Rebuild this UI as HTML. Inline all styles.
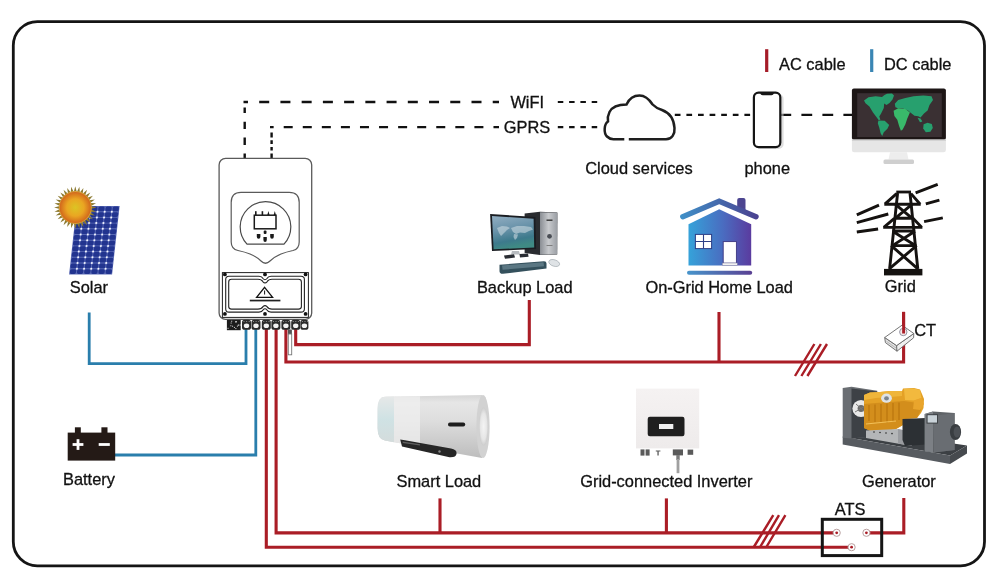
<!DOCTYPE html>
<html><head><meta charset="utf-8">
<style>
html,body{margin:0;padding:0;background:#fff;width:1000px;height:587px;overflow:hidden}
svg{display:block;will-change:transform}
text{font-family:"Liberation Sans",sans-serif;font-size:16.4px;fill:#111;stroke:#111;stroke-width:0.3px}
</style></head>
<body>
<svg width="1000" height="587" viewBox="0 0 1000 587">
<defs>
  <linearGradient id="houseG" x1="0" y1="0" x2="1" y2="0">
    <stop offset="0" stop-color="#3b9fd6"/>
    <stop offset="1" stop-color="#5a3d99"/>
  </linearGradient>
  <radialGradient id="sunG" cx="0.5" cy="0.5" r="0.5">
    <stop offset="0" stop-color="#dcc424"/>
    <stop offset="0.55" stop-color="#eaa622"/>
    <stop offset="1" stop-color="#d2671c"/>
  </radialGradient>
</defs>

<!-- outer frame -->
<rect x="13.3" y="21.6" width="971.2" height="544.2" rx="24" ry="24" fill="none" stroke="#151515" stroke-width="2.8"/>

<!-- ===== dashed comms lines ===== -->
<g stroke="#111" stroke-width="2.4" fill="none">
  <path d="M243.5 102 H499" stroke-dasharray="10 11.23" stroke-dashoffset="5.53"/>
  <path d="M244.7 107.5 V113 M244.7 121.8 V129 M244.7 137.4 V145.1 M244.7 153.5 V158.4"/>
  <path d="M270 127.1 H499" stroke-dasharray="9 10.07" stroke-dashoffset="5.37"/>
  <path d="M271.6 132.6 V137.4 M271.6 140.3 V144 M271.6 146.9 V150.5 M271.6 153.5 V158.4"/>
  <path d="M557.8 102 H598" stroke-dasharray="5.5 5.8" stroke-width="2.1"/>
  <path d="M557.8 127.1 H598" stroke-dasharray="5.5 5.8" stroke-width="2.1"/>
  <path d="M674.8 114.9 H752" stroke-dasharray="5.7 5.9" stroke-width="2.1"/>
  <path d="M780.4 114.9 H852" stroke-dasharray="10.8 10.2" stroke-width="2.1"/>
</g>

<!-- ===== cables ===== -->
<g fill="none" stroke-linejoin="miter" stroke-linecap="butt">
  <!-- DC blue -->
  <path d="M89.2 312.5 V363.6 H246 V329" stroke="#2a7eac" stroke-width="2.8"/>
  <path d="M114 455 H255.8 V329" stroke="#2a7eac" stroke-width="2.8"/>
  <!-- AC red -->
  <g stroke="#aa1d26" stroke-width="3.1">
    <path d="M266.3 329 V547.2 H851"/>
    <path d="M276.1 329 V532.9 H836"/>
    <path d="M440 498.4 V532.9"/>
    <path d="M666.4 498.4 V532.9"/>
    <path d="M867 532.9 H903.8 V498"/>
    <path d="M285.9 329 V362 H903.6 V312"/>
    <path d="M295.7 329 V344.6 H529.3 V300"/>
    <path d="M719 312 V362"/>
    <!-- slashes -->
    <path d="M795 376 L814.4 344 M801.4 376 L820.9 344 M807.4 376 L827 344" stroke-width="2.4"/>
    <path d="M753.5 547.5 L773.3 515.2 M759.8 547.5 L779 515.2 M766.1 547.5 L785.4 515.2" stroke-width="2.4"/>
  </g>
</g>

<!-- ===== solar ===== -->
<g id="solar">
  <g transform="matrix(1 0 -0.11 1 99.28 0)">
    <rect x="0" y="206" width="43" height="68.4" fill="#5868b4"/>
    <g fill="#22348f"><rect x="0.50" y="206.45" width="6.17" height="4.80" rx="1.6"/><rect x="7.67" y="206.45" width="6.17" height="4.80" rx="1.6"/><rect x="14.83" y="206.45" width="6.17" height="4.80" rx="1.6"/><rect x="22.00" y="206.45" width="6.17" height="4.80" rx="1.6"/><rect x="29.17" y="206.45" width="6.17" height="4.80" rx="1.6"/><rect x="36.33" y="206.45" width="6.17" height="4.80" rx="1.6"/><rect x="0.50" y="212.15" width="6.17" height="4.80" rx="1.6"/><rect x="7.67" y="212.15" width="6.17" height="4.80" rx="1.6"/><rect x="14.83" y="212.15" width="6.17" height="4.80" rx="1.6"/><rect x="22.00" y="212.15" width="6.17" height="4.80" rx="1.6"/><rect x="29.17" y="212.15" width="6.17" height="4.80" rx="1.6"/><rect x="36.33" y="212.15" width="6.17" height="4.80" rx="1.6"/><rect x="0.50" y="217.85" width="6.17" height="4.80" rx="1.6"/><rect x="7.67" y="217.85" width="6.17" height="4.80" rx="1.6"/><rect x="14.83" y="217.85" width="6.17" height="4.80" rx="1.6"/><rect x="22.00" y="217.85" width="6.17" height="4.80" rx="1.6"/><rect x="29.17" y="217.85" width="6.17" height="4.80" rx="1.6"/><rect x="36.33" y="217.85" width="6.17" height="4.80" rx="1.6"/><rect x="0.50" y="223.55" width="6.17" height="4.80" rx="1.6"/><rect x="7.67" y="223.55" width="6.17" height="4.80" rx="1.6"/><rect x="14.83" y="223.55" width="6.17" height="4.80" rx="1.6"/><rect x="22.00" y="223.55" width="6.17" height="4.80" rx="1.6"/><rect x="29.17" y="223.55" width="6.17" height="4.80" rx="1.6"/><rect x="36.33" y="223.55" width="6.17" height="4.80" rx="1.6"/><rect x="0.50" y="229.25" width="6.17" height="4.80" rx="1.6"/><rect x="7.67" y="229.25" width="6.17" height="4.80" rx="1.6"/><rect x="14.83" y="229.25" width="6.17" height="4.80" rx="1.6"/><rect x="22.00" y="229.25" width="6.17" height="4.80" rx="1.6"/><rect x="29.17" y="229.25" width="6.17" height="4.80" rx="1.6"/><rect x="36.33" y="229.25" width="6.17" height="4.80" rx="1.6"/><rect x="0.50" y="234.95" width="6.17" height="4.80" rx="1.6"/><rect x="7.67" y="234.95" width="6.17" height="4.80" rx="1.6"/><rect x="14.83" y="234.95" width="6.17" height="4.80" rx="1.6"/><rect x="22.00" y="234.95" width="6.17" height="4.80" rx="1.6"/><rect x="29.17" y="234.95" width="6.17" height="4.80" rx="1.6"/><rect x="36.33" y="234.95" width="6.17" height="4.80" rx="1.6"/><rect x="0.50" y="240.65" width="6.17" height="4.80" rx="1.6"/><rect x="7.67" y="240.65" width="6.17" height="4.80" rx="1.6"/><rect x="14.83" y="240.65" width="6.17" height="4.80" rx="1.6"/><rect x="22.00" y="240.65" width="6.17" height="4.80" rx="1.6"/><rect x="29.17" y="240.65" width="6.17" height="4.80" rx="1.6"/><rect x="36.33" y="240.65" width="6.17" height="4.80" rx="1.6"/><rect x="0.50" y="246.35" width="6.17" height="4.80" rx="1.6"/><rect x="7.67" y="246.35" width="6.17" height="4.80" rx="1.6"/><rect x="14.83" y="246.35" width="6.17" height="4.80" rx="1.6"/><rect x="22.00" y="246.35" width="6.17" height="4.80" rx="1.6"/><rect x="29.17" y="246.35" width="6.17" height="4.80" rx="1.6"/><rect x="36.33" y="246.35" width="6.17" height="4.80" rx="1.6"/><rect x="0.50" y="252.05" width="6.17" height="4.80" rx="1.6"/><rect x="7.67" y="252.05" width="6.17" height="4.80" rx="1.6"/><rect x="14.83" y="252.05" width="6.17" height="4.80" rx="1.6"/><rect x="22.00" y="252.05" width="6.17" height="4.80" rx="1.6"/><rect x="29.17" y="252.05" width="6.17" height="4.80" rx="1.6"/><rect x="36.33" y="252.05" width="6.17" height="4.80" rx="1.6"/><rect x="0.50" y="257.75" width="6.17" height="4.80" rx="1.6"/><rect x="7.67" y="257.75" width="6.17" height="4.80" rx="1.6"/><rect x="14.83" y="257.75" width="6.17" height="4.80" rx="1.6"/><rect x="22.00" y="257.75" width="6.17" height="4.80" rx="1.6"/><rect x="29.17" y="257.75" width="6.17" height="4.80" rx="1.6"/><rect x="36.33" y="257.75" width="6.17" height="4.80" rx="1.6"/><rect x="0.50" y="263.45" width="6.17" height="4.80" rx="1.6"/><rect x="7.67" y="263.45" width="6.17" height="4.80" rx="1.6"/><rect x="14.83" y="263.45" width="6.17" height="4.80" rx="1.6"/><rect x="22.00" y="263.45" width="6.17" height="4.80" rx="1.6"/><rect x="29.17" y="263.45" width="6.17" height="4.80" rx="1.6"/><rect x="36.33" y="263.45" width="6.17" height="4.80" rx="1.6"/><rect x="0.50" y="269.15" width="6.17" height="4.80" rx="1.6"/><rect x="7.67" y="269.15" width="6.17" height="4.80" rx="1.6"/><rect x="14.83" y="269.15" width="6.17" height="4.80" rx="1.6"/><rect x="22.00" y="269.15" width="6.17" height="4.80" rx="1.6"/><rect x="29.17" y="269.15" width="6.17" height="4.80" rx="1.6"/><rect x="36.33" y="269.15" width="6.17" height="4.80" rx="1.6"/></g>
    <g fill="#f4f6ff"><circle cx="7.17" cy="211.70" r="1"/><circle cx="14.33" cy="211.70" r="1"/><circle cx="21.50" cy="211.70" r="1"/><circle cx="28.67" cy="211.70" r="1"/><circle cx="35.83" cy="211.70" r="1"/><circle cx="7.17" cy="217.40" r="1"/><circle cx="14.33" cy="217.40" r="1"/><circle cx="21.50" cy="217.40" r="1"/><circle cx="28.67" cy="217.40" r="1"/><circle cx="35.83" cy="217.40" r="1"/><circle cx="7.17" cy="223.10" r="1"/><circle cx="14.33" cy="223.10" r="1"/><circle cx="21.50" cy="223.10" r="1"/><circle cx="28.67" cy="223.10" r="1"/><circle cx="35.83" cy="223.10" r="1"/><circle cx="7.17" cy="228.80" r="1"/><circle cx="14.33" cy="228.80" r="1"/><circle cx="21.50" cy="228.80" r="1"/><circle cx="28.67" cy="228.80" r="1"/><circle cx="35.83" cy="228.80" r="1"/><circle cx="7.17" cy="234.50" r="1"/><circle cx="14.33" cy="234.50" r="1"/><circle cx="21.50" cy="234.50" r="1"/><circle cx="28.67" cy="234.50" r="1"/><circle cx="35.83" cy="234.50" r="1"/><circle cx="7.17" cy="240.20" r="1"/><circle cx="14.33" cy="240.20" r="1"/><circle cx="21.50" cy="240.20" r="1"/><circle cx="28.67" cy="240.20" r="1"/><circle cx="35.83" cy="240.20" r="1"/><circle cx="7.17" cy="245.90" r="1"/><circle cx="14.33" cy="245.90" r="1"/><circle cx="21.50" cy="245.90" r="1"/><circle cx="28.67" cy="245.90" r="1"/><circle cx="35.83" cy="245.90" r="1"/><circle cx="7.17" cy="251.60" r="1"/><circle cx="14.33" cy="251.60" r="1"/><circle cx="21.50" cy="251.60" r="1"/><circle cx="28.67" cy="251.60" r="1"/><circle cx="35.83" cy="251.60" r="1"/><circle cx="7.17" cy="257.30" r="1"/><circle cx="14.33" cy="257.30" r="1"/><circle cx="21.50" cy="257.30" r="1"/><circle cx="28.67" cy="257.30" r="1"/><circle cx="35.83" cy="257.30" r="1"/><circle cx="7.17" cy="263.00" r="1"/><circle cx="14.33" cy="263.00" r="1"/><circle cx="21.50" cy="263.00" r="1"/><circle cx="28.67" cy="263.00" r="1"/><circle cx="35.83" cy="263.00" r="1"/><circle cx="7.17" cy="268.70" r="1"/><circle cx="14.33" cy="268.70" r="1"/><circle cx="21.50" cy="268.70" r="1"/><circle cx="28.67" cy="268.70" r="1"/><circle cx="35.83" cy="268.70" r="1"/></g>
  </g>
  <defs><linearGradient id="rayG" x1="0" y1="0" x2="0" y2="1"><stop offset="0" stop-color="#5d5a2c"/><stop offset="1" stop-color="#d0a640"/></linearGradient></defs>
  <g transform="translate(75.3 207.5)">
    <g fill="#8c7a32"><path d="M0 -21.2 L1.5 -15.5 L-1.5 -15.5 Z" transform="rotate(0.00)"/><path d="M0 -21.2 L1.5 -15.5 L-1.5 -15.5 Z" transform="rotate(11.25)"/><path d="M0 -21.2 L1.5 -15.5 L-1.5 -15.5 Z" transform="rotate(22.50)"/><path d="M0 -21.2 L1.5 -15.5 L-1.5 -15.5 Z" transform="rotate(33.75)"/><path d="M0 -21.2 L1.5 -15.5 L-1.5 -15.5 Z" transform="rotate(45.00)"/><path d="M0 -21.2 L1.5 -15.5 L-1.5 -15.5 Z" transform="rotate(56.25)"/><path d="M0 -21.2 L1.5 -15.5 L-1.5 -15.5 Z" transform="rotate(67.50)"/><path d="M0 -21.2 L1.5 -15.5 L-1.5 -15.5 Z" transform="rotate(78.75)"/><path d="M0 -21.2 L1.5 -15.5 L-1.5 -15.5 Z" transform="rotate(90.00)"/><path d="M0 -21.2 L1.5 -15.5 L-1.5 -15.5 Z" transform="rotate(101.25)"/><path d="M0 -21.2 L1.5 -15.5 L-1.5 -15.5 Z" transform="rotate(112.50)"/><path d="M0 -21.2 L1.5 -15.5 L-1.5 -15.5 Z" transform="rotate(123.75)"/><path d="M0 -21.2 L1.5 -15.5 L-1.5 -15.5 Z" transform="rotate(135.00)"/><path d="M0 -21.2 L1.5 -15.5 L-1.5 -15.5 Z" transform="rotate(146.25)"/><path d="M0 -21.2 L1.5 -15.5 L-1.5 -15.5 Z" transform="rotate(157.50)"/><path d="M0 -21.2 L1.5 -15.5 L-1.5 -15.5 Z" transform="rotate(168.75)"/><path d="M0 -21.2 L1.5 -15.5 L-1.5 -15.5 Z" transform="rotate(180.00)"/><path d="M0 -21.2 L1.5 -15.5 L-1.5 -15.5 Z" transform="rotate(191.25)"/><path d="M0 -21.2 L1.5 -15.5 L-1.5 -15.5 Z" transform="rotate(202.50)"/><path d="M0 -21.2 L1.5 -15.5 L-1.5 -15.5 Z" transform="rotate(213.75)"/><path d="M0 -21.2 L1.5 -15.5 L-1.5 -15.5 Z" transform="rotate(225.00)"/><path d="M0 -21.2 L1.5 -15.5 L-1.5 -15.5 Z" transform="rotate(236.25)"/><path d="M0 -21.2 L1.5 -15.5 L-1.5 -15.5 Z" transform="rotate(247.50)"/><path d="M0 -21.2 L1.5 -15.5 L-1.5 -15.5 Z" transform="rotate(258.75)"/><path d="M0 -21.2 L1.5 -15.5 L-1.5 -15.5 Z" transform="rotate(270.00)"/><path d="M0 -21.2 L1.5 -15.5 L-1.5 -15.5 Z" transform="rotate(281.25)"/><path d="M0 -21.2 L1.5 -15.5 L-1.5 -15.5 Z" transform="rotate(292.50)"/><path d="M0 -21.2 L1.5 -15.5 L-1.5 -15.5 Z" transform="rotate(303.75)"/><path d="M0 -21.2 L1.5 -15.5 L-1.5 -15.5 Z" transform="rotate(315.00)"/><path d="M0 -21.2 L1.5 -15.5 L-1.5 -15.5 Z" transform="rotate(326.25)"/><path d="M0 -21.2 L1.5 -15.5 L-1.5 -15.5 Z" transform="rotate(337.50)"/><path d="M0 -21.2 L1.5 -15.5 L-1.5 -15.5 Z" transform="rotate(348.75)"/></g>
    <circle r="16.4" fill="#d9a23a"/>
    <circle r="15.6" fill="url(#sunG)"/>
  </g>
</g>

<!-- ===== cloud ===== -->
<path d="M628.8 139.3 H666 C672 139.3 675 134 674.5 128 C674 120 670 113 662 110 C659 109 655 107 652.6 104.5 C648 97.5 644 95.5 639.5 95.5 C634 95.5 629 99 626.5 104.5 C621 104.5 613 105 609.5 112 C608 115 607.5 118.5 608 121.5 C604 124 603.5 133 607 136.5 C609 138.5 611 139.3 613.5 139.3 H624.3" fill="#fff" stroke="#1e1e1e" stroke-width="2.5" stroke-linecap="butt"/>

<!-- ===== phone ===== -->
<rect x="755.6" y="94" width="28" height="55" rx="5" fill="#c8c8c8" opacity="0.6"/>
<rect x="753.9" y="92.7" width="26.4" height="54.4" rx="4.6" fill="#fff" stroke="#151515" stroke-width="2.2"/>
<path d="M760.4 92.8 H773.7 V93.6 Q773.5 95.2 771.5 95.2 H762.6 Q760.6 95.2 760.4 93.6 Z" fill="#151515"/>

<!-- ===== monitor ===== -->
<g id="monitor">
  <rect x="851.9" y="88.6" width="94" height="51.4" rx="2" fill="#1d1616"/>
  <rect x="857.2" y="93.2" width="84.6" height="43.8" fill="#3a3033"/>
  <g fill="#27a06e">
    <path d="M864 100.5 L868.5 97.2 L875.7 96.2 L882 97 L884.5 95 L887 93.8 L892 93.6 L894 95.5 L892.5 99.5 L889.5 103 L886.5 105 L884.2 103.5 L883.8 108 L881.1 113.4 L879.3 116.6 L880.4 119.8 L878.6 119.9 L876.4 117 L873 112.5 L869.4 106.5 L865.5 103.2 Z"/>
    <path d="M878.4 120.6 L884.7 120.8 L889.2 125.1 L887.4 128.7 L883.8 132.3 L882.2 136 L880.6 133.2 L879.3 127.8 L877.8 123.3 Z"/>
    <path d="M894.8 103.8 L898.2 99.9 L905.4 98.1 L913.5 96.3 L923.4 95.4 L931.5 96.3 L933 99.9 L929.5 105 L927.6 110.5 L924 113.6 L920.5 117.6 L918.2 116.2 L914.5 115.8 L911 113 L908 110.5 L903 108.4 L898 108.2 L895.4 107.2 Z"/>
    <path d="M923.6 124.2 L927.5 122.8 L931.8 124 L932.8 128 L930.4 131.8 L925.8 132.2 L923.2 128.6 Z"/>
    <path d="M917.5 117.8 L920.5 118.4 L922.4 121.4 L920 122.2 Z"/>
  </g>
  <path fill="#39b96a" d="M893.6 110.8 L898.2 108.2 L905.4 108.9 L909.9 112.5 L907.2 118.8 L905.4 124.2 L902.7 129.6 L900.9 130.8 L899.1 126 L897.3 119.7 L894.4 116.1 Z"/>
  <path d="M851.9 139.6 H945.9 V150 Q945.9 152.3 943.6 152.3 H854.2 Q851.9 152.3 851.9 150 Z" fill="#e6e6e6"/>
  <rect x="851.9" y="139.6" width="94" height="1.2" fill="#cfcfcf"/>
  <path d="M890 152.3 H907 L908.5 159.6 H888.5 Z" fill="#ededed"/>
  <rect x="883.5" y="159.5" width="30.5" height="4.4" rx="1.5" fill="#cfcfcf"/>
</g>

<!-- ===== house ===== -->
<g id="house">
  <defs>
    <linearGradient id="roofG" gradientUnits="userSpaceOnUse" x1="680" y1="0" x2="760" y2="0">
      <stop offset="0" stop-color="#3f90c8"/>
      <stop offset="1" stop-color="#4b3f8e"/>
    </linearGradient>
    <linearGradient id="bodyG" gradientUnits="userSpaceOnUse" x1="688" y1="0" x2="752" y2="0">
      <stop offset="0" stop-color="#35a3da"/>
      <stop offset="0.55" stop-color="#4a6cc0"/>
      <stop offset="1" stop-color="#5b3a9e"/>
    </linearGradient>
    <linearGradient id="barG" gradientUnits="userSpaceOnUse" x1="686" y1="0" x2="753" y2="0">
      <stop offset="0" stop-color="#4796cc"/>
      <stop offset="1" stop-color="#5a3f92"/>
    </linearGradient>
  </defs>
  <path d="M737.2 210 V200 Q737.2 198 739.2 198 H743.5 Q745.5 198 745.5 200 V214 Z" fill="#4c4590"/>
  <path d="M682.8 216.8 L719.2 201.2 L756 216.8" fill="none" stroke="url(#roofG)" stroke-width="5.4" stroke-linecap="round" stroke-linejoin="miter"/>
  <path d="M688.5 224.2 L719.2 209.2 L751.2 224.2 V265.5 H688.5 Z" fill="url(#bodyG)"/>
  <rect x="695.4" y="234.4" width="16.2" height="14.2" fill="#fff" stroke="#2d3f86" stroke-width="1"/>
  <path d="M703.5 234.4 V248.6 M695.4 241.5 H711.6" stroke="#2d3f86" stroke-width="1.1"/>
  <rect x="723.2" y="241.6" width="13.2" height="21.6" fill="#fff" stroke="#3b3580" stroke-width="0.9"/>
  <rect x="722.3" y="263" width="15" height="2.4" fill="#f2f2f2" stroke="#7f7f9f" stroke-width="0.5"/>
  <rect x="687" y="270.7" width="65.2" height="4.1" rx="2" fill="url(#barG)"/>
</g>

<!-- ===== grid tower ===== -->
<g id="tower" stroke="#151210" fill="none" stroke-width="2.9" stroke-linecap="butt" stroke-linejoin="miter">
  <path d="M897.6 193 L889.6 269 M910 193 L917.8 269"/>
  <path d="M884.3 204.2 H920.7 M896.6 193.6 L884.8 204.2 M911 193.6 L920.2 204.2"/>
  <path d="M895.2 204.2 L912.2 218.3 M912.2 204.2 L895.2 218.3 M894 218.3 H913.5"/>
  <path d="M883.2 227.4 H922.4 M894.4 218.3 L883.8 227.4 M913 218.3 L921.8 227.4"/>
  <path d="M892.4 231 H915.2 M892.6 231.2 L915.4 245.6 M915 231.2 L892.4 245.6 M891.2 245.6 H916.6"/>
  <path d="M891.2 245.6 L917.3 268.4 M916.6 245.6 L889.8 268.4"/>
  <path d="M856.8 214.9 L879 205.2 M856.8 222.6 L888.3 214 M856.8 232 L878.1 229 M915.6 192.8 L937.7 184.3 M925.8 203.9 L939.4 200.1 M924.1 221.7 L942.8 217.8"/>
  <rect x="896.3" y="190.6" width="14.7" height="2.8" fill="#151210" stroke="none"/>
  <rect x="884" y="268.9" width="38.4" height="6.5" fill="#151210" stroke="none"/>
</g>

<!-- ===== computer (backup load) ===== -->
<g id="computer">
  <defs>
    <linearGradient id="scrG" x1="0" y1="0" x2="0.25" y2="1">
      <stop offset="0" stop-color="#92aec2"/>
      <stop offset="0.45" stop-color="#6a93aa"/>
      <stop offset="0.8" stop-color="#3d7a8c"/>
      <stop offset="1" stop-color="#3f8a84"/>
    </linearGradient>
    <linearGradient id="towG" x1="0" y1="0" x2="1" y2="0">
      <stop offset="0" stop-color="#8a8e94"/>
      <stop offset="0.5" stop-color="#c8cacd"/>
      <stop offset="1" stop-color="#9a9ea4"/>
    </linearGradient>
  </defs>
  <!-- tower -->
  <path d="M524.6 213.5 L540 211.8 L557.4 212.6 L557.2 254.5 L540 255 L524.6 253 Z" fill="#2a2c30"/>
  <path d="M540 212.2 L557.2 212.8 L557.2 254.2 L540 254.8 Z" fill="url(#towG)"/>
  <rect x="546.5" y="219.5" width="6" height="1.4" fill="#333"/>
  <circle cx="549.5" cy="236.3" r="2.4" fill="#4a4e55"/>
  <rect x="546.5" y="245" width="6" height="0.9" fill="#777"/>
  <!-- monitor -->
  <path d="M490.1 213.9 L535.4 217.1 L536.1 249.1 L492 251 Z" fill="#1a1d22"/>
  <path d="M492 216 L533.6 218.8 L534.2 247.6 L493.6 249.2 Z" fill="url(#scrG)"/>
  <g fill="#c9d8e0" opacity="0.6">
    <path d="M497 228 L502 226 L507 226.5 L510 228 L507 230 L504 233 L501 236 L499 233 Z"/>
    <path d="M511 228 L517 226 L524 226 L531 227 L533 229.5 L529 231 L525 233 L520 232.5 L516 234 L513 232 Z"/>
    <path d="M514 234 L518 234.5 L517 238 L515 240 L513.5 237 Z"/>
  </g>
  <path d="M512 251 H519 L520 254.5 H511 Z" fill="#b8bcc0"/>
  <path d="M504 255.6 L514 254.2 L515 257.6 L505 258.8 Z" fill="#2a2d33"/>
  <path d="M519.5 254 L528 253.6 L528.6 256.8 L520 257.4 Z" fill="#2a2d33"/>
  <!-- keyboard -->
  <path d="M499.5 264.8 L544 261.2 Q546.5 261.2 546.5 263.5 L546.5 268.6 L503 273.8 Q499.5 274 499.5 271 Z" fill="#34505c"/>
  <path d="M502 265.4 L543.5 262.2 L544 266.2 L502.6 269.8 Z" fill="#5b7783"/>
  <!-- mouse -->
  <ellipse cx="554.2" cy="263" rx="5.6" ry="3.2" fill="#dfe3e6" stroke="#9aa2a8" stroke-width="0.6" transform="rotate(18 554.2 263)"/>
</g>

<!-- ===== water heater (smart load) ===== -->
<g id="heater">
  <defs>
    <linearGradient id="whV" x1="0" y1="0" x2="0" y2="1">
      <stop offset="0" stop-color="#d6d6d6"/>
      <stop offset="0.12" stop-color="#e6e6e6"/>
      <stop offset="0.4" stop-color="#dedede"/>
      <stop offset="0.75" stop-color="#cbcbcb"/>
      <stop offset="1" stop-color="#bdbdbd"/>
    </linearGradient>
    <linearGradient id="whL" x1="0" y1="0" x2="0" y2="1">
      <stop offset="0" stop-color="#e6e8e8"/>
      <stop offset="0.5" stop-color="#cfe2e4"/>
      <stop offset="1" stop-color="#d4dcdc"/>
    </linearGradient>
    <radialGradient id="whE" cx="0.5" cy="0.5" r="0.5">
      <stop offset="0" stop-color="#f4f4f4"/>
      <stop offset="0.7" stop-color="#e6e6e6"/>
      <stop offset="1" stop-color="#cdcdcd"/>
    </radialGradient>
  </defs>
  <path d="M385 396.8 L482 395 L482 458 L385 440.6 Q377.6 439.5 377.6 428 V409 Q377.6 397 385 396.8 Z" fill="url(#whV)"/>
  <path d="M385 396.8 L394 396.6 L394 442.2 L385 440.6 Q377.6 439.5 377.6 428 V409 Q377.6 397 385 396.8 Z" fill="url(#whL)"/>
  <path d="M394 396.6 L420 396.2 L420 446.5 L394 442.2 Z" fill="#efefef" opacity="0.75"/>
  <ellipse cx="483" cy="426.5" rx="6.6" ry="31.6" fill="#d2d2d2"/>
  <ellipse cx="483.6" cy="426.5" rx="4.6" ry="19" fill="url(#whE)"/>
  <rect x="448" y="422.6" width="17.2" height="3.8" rx="1.9" fill="#1e1e1e"/>
  <path d="M400.2 439.6 L405 440.2 L451 448.6 Q456.8 449.6 456.6 453.4 Q456 457.6 449.5 457.2 L402 446.6 Z" fill="#262626"/>
  <path d="M402.5 441.6 L420 444.2 L420 445.4 L402.8 442.9 Z" fill="#777" opacity="0.7"/>
  <circle cx="439.5" cy="451.5" r="1.2" fill="#888"/>
</g>

<!-- ===== grid-tie inverter ===== -->
<g id="gti">
  <defs>
    <linearGradient id="gtiG" x1="0" y1="0" x2="0" y2="1">
      <stop offset="0" stop-color="#f5f2f2"/>
      <stop offset="1" stop-color="#eeebeb"/>
    </linearGradient>
  </defs>
  <rect x="636" y="388.6" width="63.2" height="59.8" fill="url(#gtiG)"/>
  <rect x="647.7" y="416.8" width="36.8" height="19.4" rx="2.2" fill="#1f1f1f"/>
  <rect x="659" y="424" width="14.3" height="5" fill="#f0f0f0"/>
  <g fill="#5a5a5a">
    <rect x="640.5" y="449.4" width="4" height="6.2"/><rect x="645.6" y="449.4" width="4" height="6.2"/>
    <path d="M655.8 450.4 H660.4 V451.6 H658.7 V455.4 H657.4 V451.6 H655.8 Z"/>
    <rect x="672.8" y="449.4" width="10.2" height="6"/>
    <rect x="687.6" y="449.6" width="5.6" height="5.2"/>
  </g>
  <rect x="676.3" y="455" width="3.4" height="5" fill="#7a7a7a"/><rect x="676.6" y="459" width="2.8" height="14.2" fill="#a0a0a0"/>
</g>

<!-- ===== generator ===== -->
<g id="gen">
  <!-- base skid -->
  <path d="M842.7 436.5 L876 432 L967 445.5 L950 455.5 Z" fill="#3c4044"/>
  <path d="M842.7 436.5 L950 455.5 L950 464 L842.7 444.5 Z" fill="#575b60"/>
  <path d="M950 455.5 L967 445.5 L967 453.5 L950 464 Z" fill="#464a4e"/>
  <!-- radiator frame -->
  <path d="M842.7 388 L851.5 386.8 L877.2 390.8 L877.2 436 L851.5 438.5 L842.7 437.8 Z" fill="#6a6e73"/>
  <path d="M851.5 388.5 L877.2 391.5 L877.2 436 L851.5 438.5 Z" fill="#3d4146"/>
  <circle cx="861" cy="408.5" r="8.6" fill="#e8e8e8"/>
  <circle cx="861" cy="408.5" r="3.4" fill="#6a6a6a"/>
  <path d="M855 412 L867 405 M856 404 L866 413" stroke="#7a7a7a" stroke-width="1"/>
  <!-- engine -->
  <path d="M864 395 L870 392.5 L880 392 L890 391 L902 391 L903 388.5 L914 388 L920 389.5 L922 394 L924 399 L923.5 408 L921 413 L917 418 L905 419 L903 425 L896 429 L884 431.5 L872 431.5 L864 428 Z" fill="#e4a126"/>
  <path d="M864 404 L876 403 L890 402 L904 401 L918 403 L921 410 L917 418 L905 419 L903 425 L896 429 L884 431.5 L872 431.5 L864 428 Z" fill="#d38e1c"/>
  <path d="M864 395 L870 392.5 L880 392 L890 391 L902 391 L902 396 L890 397 L876 398 L864 400 Z" fill="#efb53a"/>
  <g stroke="#b8740e" stroke-width="1.1">
    <path d="M869 405 V421 M875 404.5 V422 M881 404 V423 M887 403.5 V423 M893 403 V422 M899 402.5 V420"/>
  </g>
  <path d="M866 424 L896 421" stroke="#f2c058" stroke-width="1.2"/>
  <path d="M904 389 L914 388.4 L920 390 L921.5 398 L914 400.5 L905 400 Z" fill="#f2b93e"/>
  <path d="M914 400.5 L921.5 398 L924 404 L920 410 L913 409 Z" fill="#e9a52c"/>
  <ellipse cx="886.5" cy="398.2" rx="5.4" ry="4.6" fill="#dfe3e6"/>
  <ellipse cx="886.5" cy="398.4" rx="2.4" ry="2.1" fill="#7c848b"/>
  <!-- lower silver panel -->
  <path d="M866 430.5 L898 429 L912 432 L911.5 446 L866 438 Z" fill="#b4b6b8"/>
  <path d="M898 429 L912 432 L911.5 446 L898 443.5 Z" fill="#9a9ca0"/>
  <g fill="#2a2a2a"><circle cx="874" cy="432" r="0.8"/><circle cx="880" cy="432.5" r="0.8"/><circle cx="886" cy="433" r="0.8"/><circle cx="892" cy="433.6" r="0.8"/></g>
  <!-- coupling -->
  <path d="M902.5 419 L925.5 418 L925.5 444.5 L905 446 L902.5 440 Z" fill="#2c3034"/>
  <!-- alternator -->
  <path d="M924.7 414 L933 411.5 L954.6 413 L954.6 450 L934 452.5 L924.7 451 Z" fill="#5f6367"/>
  <path d="M933 416 L954.6 413 L954.6 450 L934 452.5 Z" fill="#696d72"/>
  <path d="M924.7 414 L933 411.5 L933 452.5 L924.7 451 Z" fill="#7c8085"/>
  <rect x="926.5" y="414.2" width="11.5" height="9.4" fill="#3f4347"/>
  <rect x="927.6" y="415.2" width="9.4" height="7.4" fill="#c9d2d8"/>
  <ellipse cx="955.5" cy="432" rx="5.6" ry="8" fill="#393d41"/>
  <ellipse cx="957" cy="432" rx="3.4" ry="5.6" fill="#4c5055"/>
</g>

<!-- ===== CT clamp ===== -->
<g id="ct" stroke="#666" stroke-width="0.9" stroke-linejoin="round">
  <path d="M884.7 337.5 L896.6 345.6 L897 351.2 L885.4 342.6 Z" fill="#e2e2e2"/>
  <path d="M896.6 345.6 L913.8 333.5 L913.6 337.8 L897 351.2 Z" fill="#efefef"/>
  <path d="M884.7 337.5 L902 325.2 L913.8 333.5 L896.6 345.6 Z" fill="#fff"/>
  <circle cx="903.3" cy="332" r="3.7" fill="#f6eaea" stroke="#8a8a9a"/>
  <path d="M886.6 341.4 L896.8 348.6" stroke="#999" stroke-width="0.6"/>
</g>
<path d="M903.6 311.8 V333.5" stroke="#aa1d26" stroke-width="2.9"/>

<!-- ===== battery ===== -->
<g id="battery">
  <rect x="74.9" y="427.3" width="5.9" height="6" fill="#241a16"/>
  <rect x="101.4" y="427.3" width="6.1" height="6" fill="#241a16"/>
  <rect x="67.7" y="432.6" width="47.5" height="28" fill="#241a16"/>
  <rect x="72.6" y="443.1" width="10.8" height="2.8" fill="#fff"/>
  <rect x="76.6" y="439.2" width="2.8" height="10.7" fill="#fff"/>
  <rect x="98.7" y="443.1" width="11.1" height="2.8" fill="#fff"/>
</g>

<!-- ===== main hybrid inverter ===== -->
<g id="inv">
  <rect x="219.1" y="158.4" width="92.6" height="161" rx="6.5" fill="#fff" stroke="#5a5a5a" stroke-width="1.3"/>
  <!-- upper panel -->
  <path d="M241 192.3 H289.2 Q299.2 192.3 299.2 202.3 V242 Q299.2 249 293 250.5 Q286 252 281 254 Q274 257 270 261 Q265.5 265.5 261 261 Q257 257 250 254 Q245 252 238 250.5 Q231.2 249 231.2 242 V202.3 Q231.2 192.3 241 192.3 Z" fill="#fff" stroke="#5a5a5a" stroke-width="1.2"/>
  <!-- circle clipped -->
  <path d="M247 244.2 A25.3 25.3 0 1 1 284 244.2 Z" fill="#fff" stroke="#4a4a4a" stroke-width="1.2"/>
  <!-- display -->
  <rect x="254.3" y="215.2" width="21.7" height="13.6" fill="#fff" stroke="#1a1a1a" stroke-width="1.5"/>
  <g fill="#1a1a1a">
    <rect x="255" y="211.2" width="1.6" height="3.8"/>
    <rect x="261.6" y="211.2" width="1.6" height="3.8"/>
    <path d="M267.3 215 L268.4 211 L269.5 215 Z"/>
    <path d="M273.7 215 L274.8 211 L275.9 215 Z"/>
    <!-- buttons -->
    <rect x="263.7" y="230.6" width="2.8" height="3.4" rx="1"/>
    <path d="M256.8 234 h3.6 v2.8 q0 2 -1.8 2 q-1.8 0 -1.8 -2 Z"/>
    <path d="M270.2 234 h3.6 v2.8 q0 2 -1.8 2 q-1.8 0 -1.8 -2 Z"/>
    <path d="M263.4 237 h3.4 v2.8 q0 2.2 -1.7 2.2 q-1.7 0 -1.7 -2.2 Z"/>
  </g>
  <!-- junction box -->
  <rect x="222.4" y="272.6" width="86" height="44.8" fill="#fff" stroke="#222" stroke-width="1"/>
  <path d="M229 276.3 H259 Q262 276.3 263 278.5 Q265 281 267 278.5 Q268 276.3 271 276.3 H301 Q304.4 276.3 304.4 279.5 V309 Q304.4 312.1 301 312.1 H271 Q268 312.1 267 310 Q265 307.5 263 310 Q262 312.1 259 312.1 H229 Q225.7 312.1 225.7 309 V279.5 Q225.7 276.3 229 276.3 Z" fill="none" stroke="#222" stroke-width="1.1"/>
  <path d="M231.5 279.3 H258 Q261.5 279.3 263 281.8 Q265 284 267 281.8 Q268.5 279.3 272 279.3 H298.5 Q301.4 279.3 301.4 282 V306.5 Q301.4 309.1 298.5 309.1 H272 Q268.5 309.1 267 306.6 Q265 304.6 263 306.6 Q261.5 309.1 258 309.1 H231.5 Q228.7 309.1 228.7 306.5 V282 Q228.7 279.3 231.5 279.3 Z" fill="none" stroke="#222" stroke-width="1.1"/>
  <g fill="#111">
    <circle cx="224.9" cy="274.4" r="1.9"/><circle cx="265" cy="274.4" r="1.9"/><circle cx="305.6" cy="274.4" r="1.9"/>
    <circle cx="224.9" cy="313.9" r="1.9"/><circle cx="265" cy="313.9" r="1.9"/><circle cx="305.6" cy="313.9" r="1.9"/>
  </g>
  <path d="M264.6 287.3 L272.6 297.3 H256.6 Z" fill="none" stroke="#111" stroke-width="1.3" stroke-linejoin="miter"/>
  <rect x="264.1" y="290.5" width="1" height="4" fill="#111"/>
  <rect x="249.8" y="299.7" width="30.6" height="1.7" fill="#222"/>
  <!-- bottom glands -->
  <rect x="226.9" y="320" width="13.8" height="10.2" fill="#1c1c1c"/>
  <g fill="#bdbdbd"><rect x="230.3" y="325.2" width="1.1" height="1.1"/><rect x="232.0" y="325.7" width="1.1" height="1.1"/><rect x="235.2" y="321.0" width="1.1" height="1.1"/><rect x="227.5" y="327.8" width="1.1" height="1.1"/><rect x="230.6" y="322.5" width="1.1" height="1.1"/><rect x="239.8" y="324.5" width="1.1" height="1.1"/><rect x="237.8" y="324.6" width="1.1" height="1.1"/><rect x="235.4" y="321.7" width="1.1" height="1.1"/><rect x="235.3" y="328.0" width="1.1" height="1.1"/><rect x="233.9" y="326.9" width="1.1" height="1.1"/><rect x="235.8" y="321.0" width="1.1" height="1.1"/><rect x="236.9" y="325.6" width="1.1" height="1.1"/><rect x="231.1" y="320.7" width="1.1" height="1.1"/><rect x="238.2" y="324.6" width="1.1" height="1.1"/></g>
  <g>
  <rect x="242" y="319.8" width="9" height="10" rx="2.6" fill="#2b2b2b"/>
  <rect x="251.5" y="319.8" width="9" height="10" rx="2.6" fill="#2b2b2b"/>
  <rect x="261.8" y="319.8" width="9" height="10" rx="2.6" fill="#2b2b2b"/>
  <rect x="271.4" y="319.8" width="9" height="10" rx="2.6" fill="#2b2b2b"/>
  <rect x="281.4" y="319.8" width="9" height="10" rx="2.6" fill="#2b2b2b"/>
  <rect x="291.2" y="319.8" width="9" height="10" rx="2.6" fill="#2b2b2b"/>
  <rect x="300.4" y="319.8" width="8" height="10" rx="2.6" fill="#2b2b2b"/>
  </g><g fill="#f2f2f2">
  <ellipse cx="246.5" cy="325.8" rx="2.7" ry="2.3"/>
  <ellipse cx="256.0" cy="325.8" rx="2.7" ry="2.3"/>
  <ellipse cx="266.3" cy="325.8" rx="2.7" ry="2.3"/>
  <ellipse cx="275.9" cy="325.8" rx="2.7" ry="2.3"/>
  <ellipse cx="285.9" cy="325.8" rx="2.7" ry="2.3"/>
  <ellipse cx="295.7" cy="325.8" rx="2.7" ry="2.3"/>
  <ellipse cx="304.4" cy="325.8" rx="2.7" ry="2.3"/>
  </g><g fill="#9a9a9a">
  <rect x="243.5" y="321" width="1" height="0.9"/>
  <rect x="246.1" y="321" width="1" height="0.9"/>
  <rect x="248.7" y="321" width="1" height="0.9"/>
  <rect x="253.0" y="321" width="1" height="0.9"/>
  <rect x="255.6" y="321" width="1" height="0.9"/>
  <rect x="258.2" y="321" width="1" height="0.9"/>
  <rect x="263.3" y="321" width="1" height="0.9"/>
  <rect x="265.9" y="321" width="1" height="0.9"/>
  <rect x="268.5" y="321" width="1" height="0.9"/>
  <rect x="272.9" y="321" width="1" height="0.9"/>
  <rect x="275.5" y="321" width="1" height="0.9"/>
  <rect x="278.1" y="321" width="1" height="0.9"/>
  <rect x="282.9" y="321" width="1" height="0.9"/>
  <rect x="285.5" y="321" width="1" height="0.9"/>
  <rect x="288.1" y="321" width="1" height="0.9"/>
  <rect x="292.7" y="321" width="1" height="0.9"/>
  <rect x="295.3" y="321" width="1" height="0.9"/>
  <rect x="297.9" y="321" width="1" height="0.9"/>
  <rect x="301.9" y="321" width="1" height="0.9"/>
  <rect x="304.5" y="321" width="1" height="0.9"/>
  <rect x="307.1" y="321" width="1" height="0.9"/>
  </g>
  <!-- CT cable stub -->
  <rect x="287.9" y="329.5" width="4" height="5" fill="#555"/><rect x="288.3" y="334" width="3.4" height="20.8" fill="#fff" stroke="#777" stroke-width="0.9"/>
</g>

<!-- ATS -->
<rect x="822.3" y="519.3" width="59.4" height="36.3" fill="none" stroke="#151515" stroke-width="3"/>
<g fill="#fff" stroke="#b8a0a0" stroke-width="1">
  <circle cx="836.7" cy="532.8" r="3.6"/>
  <circle cx="866.4" cy="532.8" r="3.6"/>
  <circle cx="851.6" cy="547.2" r="3.6"/>
</g>
<g fill="#aa1d26">
  <circle cx="836.7" cy="532.8" r="1.4"/>
  <circle cx="866.4" cy="532.8" r="1.4"/>
  <circle cx="851.6" cy="547.2" r="1.4"/>
</g>

<!-- legend -->
<rect x="765.1" y="49.2" width="3.2" height="22.8" fill="#a51c28"/>
<rect x="870.1" y="49.2" width="3.2" height="22.8" fill="#3a86b4"/>

<!-- ===== labels ===== -->
<text x="510.4" y="107.5">WiFI</text>
<text x="503.8" y="133.3">GPRS</text>
<text x="585.2" y="174.3">Cloud services</text>
<text x="744.5" y="173.7">phone</text>
<text x="779.0" y="70.3">AC cable</text>
<text x="884.0" y="70.3">DC cable</text>
<text x="69.8" y="293.0">Solar</text>
<text x="476.9" y="292.5">Backup Load</text>
<text x="645.4" y="293.0">On-Grid Home Load</text>
<text x="884.8" y="292.3">Grid</text>
<text x="914.2" y="336.3">CT</text>
<text x="63.0" y="485.2">Battery</text>
<text x="396.5" y="486.6">Smart Load</text>
<text x="580.2" y="486.8">Grid-connected Inverter</text>
<text x="862.0" y="487.2">Generator</text>
<text x="834.8" y="514.6">ATS</text>

</svg>
</body></html>
